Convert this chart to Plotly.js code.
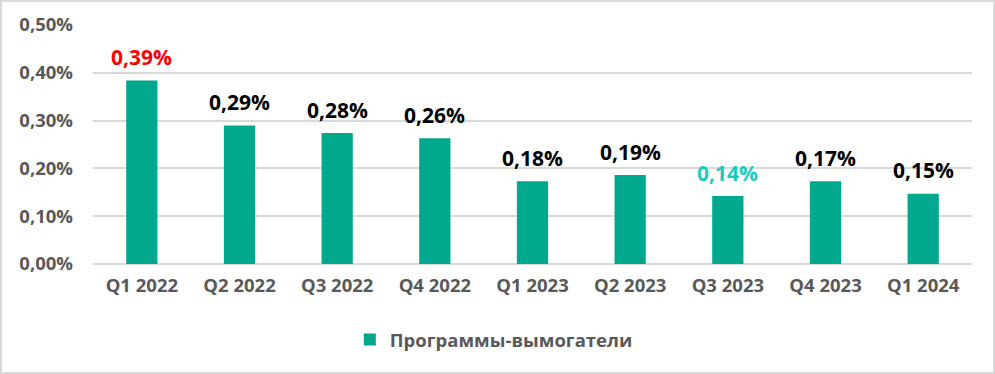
<!DOCTYPE html>
<html>
<head>
<meta charset="utf-8">
<script src="https://cdn.plot.ly/plotly-3.0.1.min.js"></script>
<style>
  html, body { margin: 0; padding: 0; background: #fff; }
  #wrap { position: relative; width: 995px; height: 374px; }
  #chart { width: 995px; height: 374px; }
  #frame { position: absolute; left: 0; top: 0; width: 995px; height: 374px; box-sizing: border-box; border: 2px solid #d9d9d9; pointer-events: none; }
</style>
</head>
<body>
<div id="wrap"><div id="chart"></div><div id="frame"></div></div>
<script>
const categories = ["Q1 2022", "Q2 2022", "Q3 2022", "Q4 2022", "Q1 2023", "Q2 2023", "Q3 2023", "Q4 2023", "Q1 2024"];
const values = [0.00384, 0.00290, 0.00274, 0.00263, 0.00173, 0.00186, 0.00142, 0.00173, 0.00147];
const labels = ["0,39%", "0,29%", "0,28%", "0,26%", "0,18%", "0,19%", "0,14%", "0,17%", "0,15%"];
const labelColors = ["#FF0000", "#000000", "#000000", "#000000", "#000000", "#000000", "#1FC9C1", "#000000", "#000000"];
const seriesName = "Программы-вымогатели";
const yTicks = [0, 0.001, 0.002, 0.003, 0.004, 0.005];

const FONT = "Open Sans, Noto Sans, DejaVu Sans, sans-serif";

const trace = {
  type: "bar",
  x: categories,
  y: values,
  name: seriesName,
  marker: { color: "#00A88E" },
  width: 0.32,
  hoverinfo: "none"
};

const annotations = categories.map((c, i) => ({
  x: c,
  y: values[i],
  xref: "x",
  yref: "y",
  text: labels[i],
  showarrow: false,
  yanchor: "middle",
  yshift: 23.5,
  font: { family: FONT, size: 21, color: labelColors[i], weight: 700 }
}));

const layout = {
  width: 995,
  height: 374,
  autosize: false,
  margin: { l: 93, r: 23, t: 25, b: 110, autoexpand: false },
  paper_bgcolor: "#ffffff",
  plot_bgcolor: "#ffffff",
  separators: ",.",
  showlegend: true,
  legend: {
    orientation: "h",
    x: 0.456,
    xanchor: "center",
    y: -0.318,
    yanchor: "middle",
    font: { family: FONT, size: 18.5, color: "#595959", weight: 700 }
  },
  xaxis: {
    type: "category",
    automargin: false,
    tickangle: 0,
    showgrid: false,
    showline: false,
    zeroline: false,
    ticks: "",
    ticklabelstandoff: 8,
    tickfont: { family: FONT, size: 18.5, color: "#595959", weight: 700 }
  },
  yaxis: {
    automargin: false,
    range: [0, 0.005],
    tickvals: yTicks,
    tickformat: ".2%",
    showgrid: true,
    gridcolor: "#d9d9d9",
    gridwidth: 2,
    zeroline: true,
    zerolinecolor: "#d9d9d9",
    zerolinewidth: 2,
    showline: false,
    ticks: "",
    ticklabelstandoff: 19,
    tickfont: { family: FONT, size: 18.5, color: "#595959", weight: 700 }
  },
  annotations: annotations,
  bargap: 0.68
};

Plotly.newPlot("chart", [trace], layout, { staticPlot: true, displayModeBar: false });
</script>
</body>
</html>
